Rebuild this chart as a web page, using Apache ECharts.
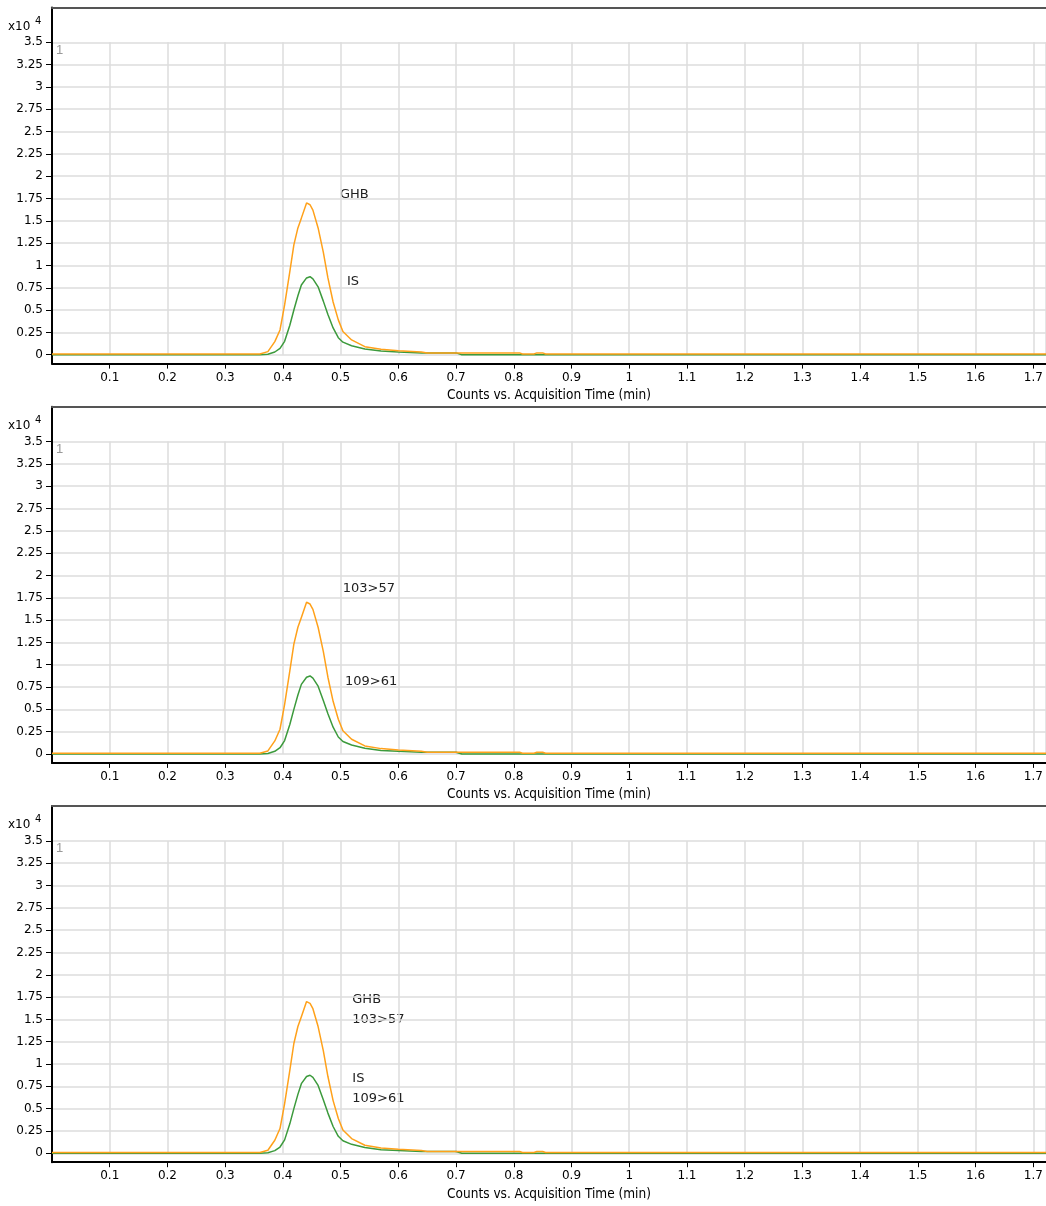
<!DOCTYPE html>
<html><head><meta charset="utf-8">
<script src="https://cdn.jsdelivr.net/npm/echarts@6/dist/echarts.min.js"></script>
<style>html,body{margin:0;padding:0;background:#fff}#c{width:1046px;height:1206px}</style>
</head><body><div id="c"></div>
<script>
// Acquisition time (min)
const times = [0, 0.36, 0.374, 0.386, 0.395, 0.403, 0.412, 0.419, 0.426, 0.432, 0.441, 0.447, 0.452, 0.461, 0.470, 0.478, 0.487, 0.496, 0.504, 0.519, 0.542, 0.57, 0.60, 0.64, 0.65, 0.70, 0.71, 0.81, 0.815, 0.835, 0.84, 0.85, 0.855, 1.722];
// Counts (x10^4) GHB 103>57 (orange)
const ghb = [0.008, 0.008, 0.034, 0.146, 0.277, 0.557, 0.93, 1.23, 1.42, 1.53, 1.70, 1.68, 1.62, 1.42, 1.15, 0.86, 0.59, 0.39, 0.26, 0.165, 0.09, 0.06, 0.045, 0.03, 0.02, 0.02, 0.02, 0.02, 0.008, 0.008, 0.02, 0.02, 0.008, 0.008];
// Counts (x10^4) IS 109>61 (green)
const isd = [0, 0, 0.005, 0.03, 0.07, 0.15, 0.33, 0.5, 0.66, 0.78, 0.86, 0.874, 0.85, 0.76, 0.60, 0.45, 0.30, 0.19, 0.14, 0.10, 0.064, 0.04, 0.03, 0.02, 0.02, 0.02, 0, 0, 0, 0, 0, 0, 0, 0];
// Panel annotations
const panelLabelsTop = ['GHB', '103>57', 'GHB\n103>57'];
const panelLabelsBottom = ['IS', '109>61', 'IS\n109>61'];
const xTitle = 'Counts vs. Acquisition Time (min)';
const xMax = 1.722, xInterval = 0.1;
const yMax = 3.5, yInterval = 0.25, yLow = -0.1, yTop = 3.89;

const FONT = '"DejaVu Sans", "Liberation Sans", sans-serif';
const PANEL = 399.3;
const orange = '#FFA11A', green = '#3C9A3C';

const grid = [], xAxis = [], yAxis = [], series = [], graphic = [];
const labelPos = [
  {top: [340, 195], bot: [347, 281.7]},
  {top: [342.7, 189], bot: [345, 282.4]},
  {top: [352.3, 211], bot: [352.3, 290]}
];
for (let i = 0; i < 3; i++) {
  const off = i * PANEL;
  grid.push({left: 52, right: 0, top: 42.3 + off, height: 312.4, containLabel: false});
  grid.push({left: 52, right: 0, top: 7.5 + off, height: 356.1, containLabel: false});
  const gA = 2 * i, gB = 2 * i + 1;
  xAxis.push({type: 'value', gridIndex: gA, min: 0, max: xMax, interval: xInterval,
    axisLine: {show: false}, axisTick: {show: false}, axisLabel: {show: false},
    splitLine: {show: true, lineStyle: {color: '#dcdcdc', width: 1.5}}});
  xAxis.push({type: 'value', gridIndex: gB, min: 0, max: xMax, interval: xInterval, position: 'bottom',
    axisLine: {show: true, onZero: false, lineStyle: {color: '#000', width: 2}},
    axisTick: {show: true, length: 5, lineStyle: {color: '#000', width: 1}},
    axisLabel: {show: true, showMinLabel: false, showMaxLabel: false, fontSize: 12, fontFamily: FONT, color: '#000', margin: 8},
    splitLine: {show: false},
    name: xTitle, nameLocation: 'middle', nameGap: 25,
    nameTextStyle: {fontSize: 13.5, fontFamily: '"DejaVu Sans Condensed", "Liberation Sans", sans-serif', color: '#000'}});
  xAxis.push({type: 'value', gridIndex: gB, min: 0, max: xMax, position: 'top',
    axisLine: {show: true, onZero: false, lineStyle: {color: '#555', width: 2}},
    axisTick: {show: false}, axisLabel: {show: false}, splitLine: {show: false}});
  yAxis.push({type: 'value', gridIndex: gA, min: 0, max: yMax, interval: yInterval,
    axisLine: {show: false},
    axisTick: {show: true, length: 6, lineStyle: {color: '#000', width: 1}},
    axisLabel: {show: true, fontSize: 12, fontFamily: FONT, color: '#000', margin: 9},
    splitLine: {show: true, lineStyle: {color: '#dcdcdc', width: 1.5}}});
  yAxis.push({type: 'value', gridIndex: gB, min: yLow, max: yTop,
    axisLine: {show: true, onZero: false, lineStyle: {color: '#000', width: 2}},
    axisTick: {show: false}, axisLabel: {show: false}, splitLine: {show: false}});
  const xiB = 3 * i + 1, yiB = 2 * i + 1;
  series.push({type: 'line', xAxisIndex: xiB, yAxisIndex: yiB, showSymbol: false, silent: true,
    lineStyle: {color: green, width: 1.5}, itemStyle: {color: green},
    data: times.map((t, k) => [t, isd[k]])});
  series.push({type: 'line', xAxisIndex: xiB, yAxisIndex: yiB, showSymbol: false, silent: true,
    lineStyle: {color: orange, width: 1.5}, itemStyle: {color: orange},
    data: times.map((t, k) => [t, ghb[k]])});
  graphic.push({type: 'text', x: 8, y: 26.7 + off, style: {text: 'x10', font: '12px ' + FONT, fill: '#000', verticalAlign: 'middle'}});
  graphic.push({type: 'text', x: 35, y: 21 + off, style: {text: '4', font: '10px ' + FONT, fill: '#000', verticalAlign: 'middle'}});
  graphic.push({type: 'text', x: 56, y: 50 + off, style: {text: '1', font: '13px "Liberation Sans", sans-serif', fill: '#999', verticalAlign: 'middle'}});
  const lp = labelPos[i];
  graphic.push({type: 'text', x: lp.top[0], y: lp.top[1] + off,
    style: {text: panelLabelsTop[i], font: '13px ' + FONT, fill: '#222', verticalAlign: 'middle', lineHeight: 20.7}});
  graphic.push({type: 'text', x: lp.bot[0], y: lp.bot[1] + off,
    style: {text: panelLabelsBottom[i], font: '13px ' + FONT, fill: '#222', verticalAlign: 'middle', lineHeight: 20}});
}
const chart = echarts.init(document.getElementById('c'), null, {renderer: 'canvas'});
chart.setOption({backgroundColor: '#fff', animation: false, grid, xAxis, yAxis, series, graphic});
</script>
</body></html>
